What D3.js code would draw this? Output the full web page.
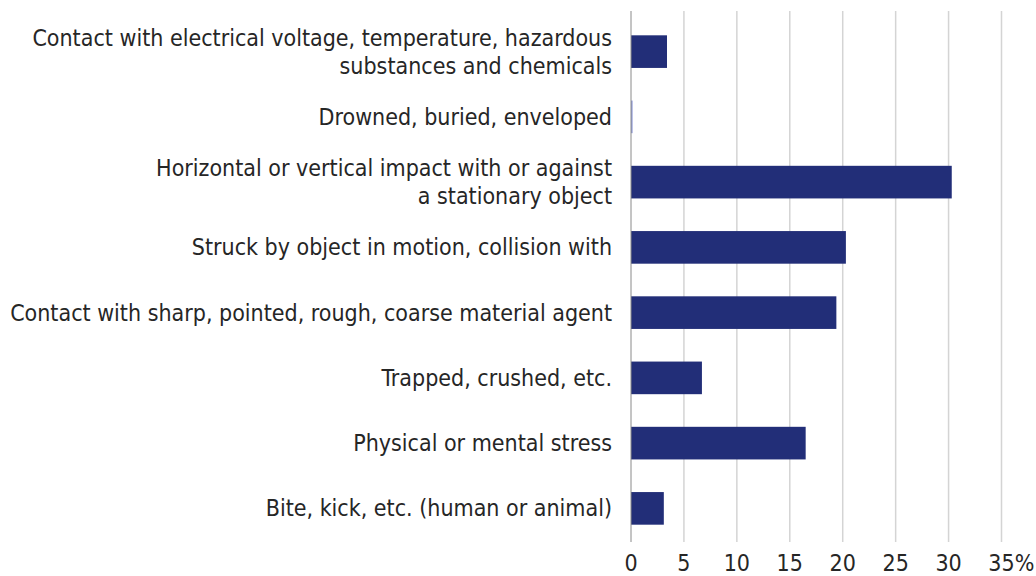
<!DOCTYPE html>
<html>
<head>
<meta charset="utf-8">
<script src="https://cdn.jsdelivr.net/npm/d3@7"></script>
<style>
  body { margin: 0; background: #fff; }
  svg { display: block; }
  text { font-family: "DejaVu Sans Condensed", "Roboto", sans-serif; fill: #262626; }
</style>
</head>
<body>
<div id="chart"></div>
<script>
// causes, top to bottom (label lines)
const causes = [
    ["Contact with electrical voltage, temperature, hazardous", "substances and chemicals"],
    ["Drowned, buried, enveloped"],
    ["Horizontal or vertical impact with or against", "a stationary object"],
    ["Struck by object in motion, collision with"],
    ["Contact with sharp, pointed, rough, coarse material agent"],
    ["Trapped, crushed, etc."],
    ["Physical or mental stress"],
    ["Bite, kick, etc. (human or animal)"]
];
const shares = [3.4, 0.15, 30.3, 20.3, 19.4, 6.7, 16.5, 3.1];
const xTicks = [0, 5, 10, 15, 20, 25, 30, 35];

const width = 1036;
const height = 576;
const margin = { top: 19, right: 35, bottom: 35, left: 631 };

const svg = d3.select("#chart")
    .append("svg")
    .attr("width", width)
    .attr("height", height);

const xScale = d3.scaleLinear()
    .domain([0, 35])
    .range([margin.left, margin.left + 370.5]);

const yScale = d3.scaleBand()
    .domain(d3.range(causes.length))
    .range([margin.top, 541])
    .paddingInner(0.5)
    .paddingOuter(0.25);

// gridlines
svg.append("g")
    .selectAll("line")
    .data(xTicks.slice(1))
    .join("line")
        .attr("x1", d => xScale(d))
        .attr("x2", d => xScale(d))
        .attr("y1", 11)
        .attr("y2", 542)
        .attr("stroke", "#d4d4d4")
        .attr("stroke-width", 1.5);

// bars
svg.append("g")
    .selectAll("rect")
    .data(shares)
    .join("rect")
        .attr("x", xScale(0))
        .attr("y", (d, i) => yScale(i))
        .attr("width", d => xScale(d) - xScale(0))
        .attr("height", yScale.bandwidth())
        .attr("fill", d => d < 1 ? "#8f9ad8" : "#222e78");

// zero axis line
svg.append("line")
    .attr("x1", xScale(0))
    .attr("x2", xScale(0))
    .attr("y1", 11)
    .attr("y2", 542)
    .attr("stroke", "#8a8a8a")
    .attr("stroke-width", 1);

// category labels
const fontSize = 23;
const lineH = 28;
const labels = svg.append("g")
    .selectAll("text")
    .data(causes)
    .join("text")
        .attr("text-anchor", "end")
        .attr("font-size", fontSize);
labels.each(function(d, i) {
    const t = d3.select(this);
    const y0 = yScale(i) + yScale.bandwidth() / 2 - (d.length - 1) * lineH / 2;
    d.forEach((line, j) => {
        t.append("tspan")
            .attr("x", 612)
            .attr("y", y0 + j * lineH)
            .attr("dy", "0.35em")
            .text(line);
    });
});

// x axis labels
const tickG = svg.append("g")
    .selectAll("text")
    .data(xTicks)
    .join("text")
        .attr("x", d => xScale(d))
        .attr("y", 563)
        .attr("dy", "0.35em")
        .attr("text-anchor", "middle")
        .attr("font-size", fontSize)
        .text(d => d);

// percent sign hangs after the last tick number
const last = tickG.filter(d => d === 35);
const w = last.node().getComputedTextLength();
svg.append("text")
    .attr("x", xScale(35) + w / 2)
    .attr("y", 563)
    .attr("dy", "0.35em")
    .attr("font-size", fontSize)
    .text("%");
</script>
</body>
</html>
